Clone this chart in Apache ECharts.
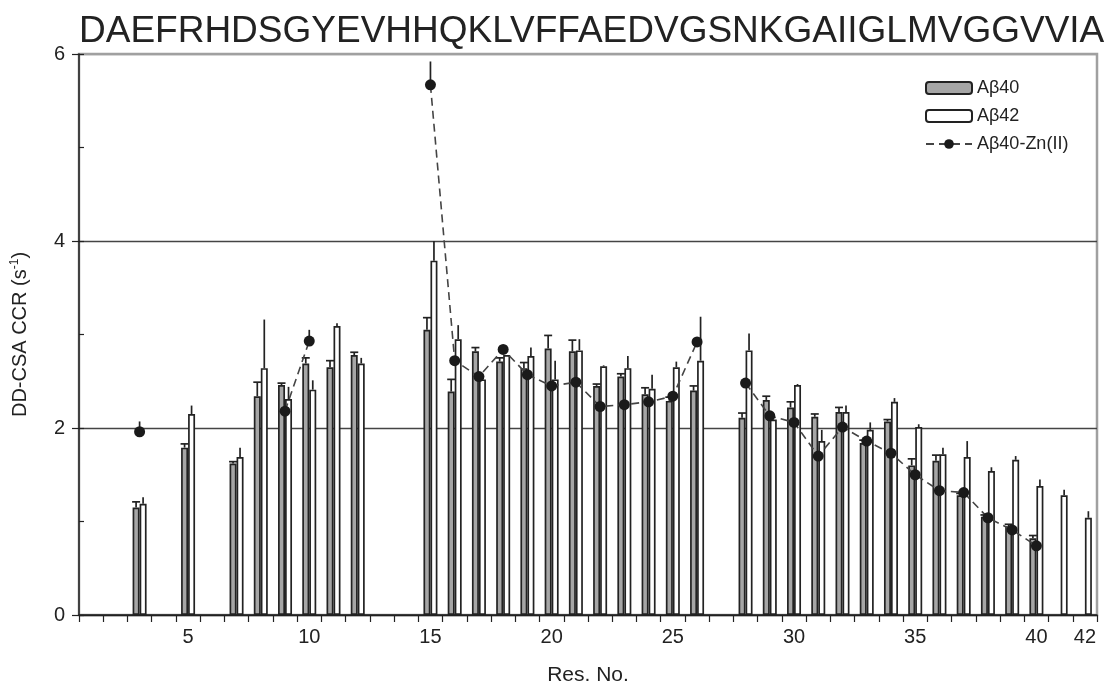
<!DOCTYPE html>
<html>
<head>
<meta charset="utf-8">
<script src="https://cdn.jsdelivr.net/npm/echarts@6/dist/echarts.min.js"></script>
<style>
html,body{margin:0;padding:0;background:#fff;}
#chart{width:1109px;height:691px;}
</style>
</head>
<body>
<div id="chart"></div>
<script>
// ---- data ----
const sequence = "DAEFRHDSGYEVHHQKLVFFAEDVGSNKGAIIGLMVGGVVIA";
const residues = Array.from({length: 42}, (_, i) => String(i + 1));
const shownTickLabels = ['5','10','15','20','25','30','35','40','42'];
const yTicks = [0, 2, 4, 6];

const ab40 = [null,null,1.15,null,1.79,null,1.62,2.34,2.46,2.69,2.65,2.78,null,null,3.05,2.39,2.82,2.71,2.64,2.85,2.82,2.45,2.55,2.36,2.29,2.40,null,2.11,2.30,2.22,2.12,2.17,1.84,2.07,1.60,1.65,1.28,1.05,0.95,0.82,null,null];
const ab40Err = [null,null,0.06,null,0.04,null,0.02,0.15,0.02,0.06,0.07,0.03,null,null,0.13,0.13,0.04,0.04,0.06,0.14,0.12,0.02,0.03,0.07,0.04,0.05,null,0.05,0.04,0.06,0.03,0.05,0.03,0.02,0.07,0.06,0.02,0.02,0.02,0.03,null,null];

const ab42 = [null,null,1.19,null,2.15,null,1.69,2.64,2.31,2.41,3.09,2.69,null,null,3.79,2.95,2.52,2.78,2.77,2.52,2.83,2.66,2.64,2.42,2.65,2.72,null,2.83,2.09,2.46,1.86,2.17,1.98,2.28,2.01,1.72,1.69,1.54,1.66,1.38,1.28,1.04];
const ab42Err = [null,null,0.07,null,0.09,null,0.10,0.52,0.13,0.10,0.03,0.06,null,null,0.21,0.15,null,null,0.09,0.20,0.12,0.01,0.13,0.15,0.06,0.47,null,0.18,null,0.01,0.12,0.07,0.08,0.04,0.03,0.07,0.17,0.04,0.04,0.07,0.06,0.07];

const abZn = [null,null,1.96,null,null,null,null,null,2.18,2.93,null,null,null,null,5.67,2.72,2.55,2.84,2.57,2.45,2.49,2.23,2.25,2.28,2.34,2.92,null,2.48,2.13,2.06,1.70,2.01,1.86,1.73,1.50,1.33,1.31,1.04,0.91,0.74,null,null];
const abZnErr = [null,null,0.11,null,null,null,null,null,null,0.12,null,null,null,null,0.25,null,null,null,null,null,null,null,null,null,null,null,null,null,null,null,null,null,null,null,null,null,null,null,null,null,null,null];

// ---- styling ----
const FONT = "'Liberation Sans', Arial, sans-serif";
const BAR_W = 7;
const INK = '#222';

function errData(vals, errs) {
  const out = [];
  vals.forEach((v, i) => {
    if (v != null && errs[i] != null) out.push([i, v, errs[i]]);
  });
  return out;
}

function errSeries(name, vals, errs, offset, cap) {
  return {
    type: 'custom',
    name: name + '-err',
    silent: true,
    z: 5,
    encode: {x: 0, y: 1},
    data: errData(vals, errs),
    renderItem: function (params, api) {
      const x = api.value(0), y = api.value(1), e = api.value(2);
      const p0 = api.coord([x, y]);
      const p1 = api.coord([x, y + e]);
      const cx = p0[0] + offset;
      const children = [{
        type: 'line',
        shape: {x1: cx, y1: p0[1], x2: cx, y2: p1[1]},
        style: {stroke: INK, lineWidth: 1.7}
      }];
      if (cap) {
        children.push({
          type: 'line',
          shape: {x1: cx - 4, y1: p1[1], x2: cx + 4, y2: p1[1]},
          style: {stroke: INK, lineWidth: 1.7}
        });
      }
      return {type: 'group', children: children};
    }
  };
}

const chart = echarts.init(document.getElementById('chart'), null, {renderer: 'canvas'});

const option = {
  backgroundColor: '#fff',
  animation: false,
  textStyle: {fontFamily: FONT},
  title: {
    text: sequence,
    left: 74,
    top: 8,
    textStyle: {fontFamily: FONT, fontSize: 37, fontWeight: 'normal', color: INK}
  },
  legend: {
    left: 920,
    top: 74,
    orient: 'vertical',
    itemWidth: 46,
    itemHeight: 12,
    itemGap: 10,
    textStyle: {fontFamily: FONT, fontSize: 18, color: INK},
    data: ['Aβ40', 'Aβ42', 'Aβ40-Zn(II)']
  },
  grid: {
    left: 79, right: 12, top: 54, bottom: 71,
    show: true, borderColor: '#a0a0a0', borderWidth: 2.5, backgroundColor: 'transparent'
  },
  xAxis: {
    type: 'category',
    data: residues,
    boundaryGap: true,
    name: 'Res. No.',
    nameLocation: 'middle',
    nameGap: 50,
    nameTextStyle: {fontFamily: FONT, fontSize: 21, color: INK},
    axisLine: {show: true, lineStyle: {color: INK, width: 1.5}},
    axisTick: {show: true, interval: 0, length: 7, lineStyle: {color: INK, width: 1.2}},
    axisLabel: {
      interval: 0,
      margin: 12,
      fontFamily: FONT, fontSize: 20, color: INK,
      formatter: v => shownTickLabels.includes(v) ? v : ''
    },
    splitLine: {show: false}
  },
  yAxis: [{
    type: 'value',
    min: 0, max: 6, interval: 2,
    name: '{n|DD-CSA CCR (s}{s|-1}{n|)}',
    nameLocation: 'middle',
    nameGap: 48,
    nameTextStyle: {
      fontFamily: FONT, fontSize: 20, color: INK,
      rich: {
        n: {fontFamily: FONT, fontSize: 20, color: INK},
        s: {fontFamily: FONT, fontSize: 12, color: INK, verticalAlign: 'top', padding: [0, 0, 10, 0]}
      }
    },
    axisLine: {show: true, lineStyle: {color: INK, width: 1.5}},
    axisTick: {show: true, length: 7, lineStyle: {color: INK, width: 1.2}},
    axisLabel: {
      margin: 14, fontFamily: FONT, fontSize: 20, color: INK,
      formatter: v => yTicks.includes(v) ? String(v) : ''
    },
    splitLine: {show: true, lineStyle: {color: ['#222', '#444', '#444', '#a0a0a0'], width: 1.3}}
  }, {
    type: 'value',
    min: 0, max: 6, interval: 1,
    position: 'left',
    axisLine: {show: false},
    axisTick: {show: true, inside: true, length: 5, lineStyle: {color: INK, width: 1.2}},
    axisLabel: {show: false},
    splitLine: {show: false}
  }],
  series: [
    {
      name: 'Aβ40',
      type: 'bar',
      data: ab40,
      barWidth: BAR_W,
      barGap: '0%',
      itemStyle: {color: '#a6a6a6', borderColor: INK, borderWidth: 1.7},
      z: 2
    },
    {
      name: 'Aβ42',
      type: 'bar',
      data: ab42,
      barWidth: BAR_W,
      barGap: '0%',
      itemStyle: {color: '#ffffff', borderColor: INK, borderWidth: 1.7},
      z: 2
    },
    errSeries('Aβ40', ab40, ab40Err, -BAR_W / 2, true),
    errSeries('Aβ42', ab42, ab42Err, BAR_W / 2, false),
    errSeries('Aβ40-Zn(II)', abZn, abZnErr, 0, false),
    {
      name: 'Aβ40-Zn(II)',
      type: 'line',
      data: abZn,
      connectNulls: false,
      symbol: 'circle',
      symbolSize: 11,
      showAllSymbol: true,
      itemStyle: {color: '#1a1a1a'},
      lineStyle: {color: '#444', width: 1.6, type: [8, 5]},
      z: 6
    }
  ]
};

chart.setOption(option);
</script>
</body>
</html>
